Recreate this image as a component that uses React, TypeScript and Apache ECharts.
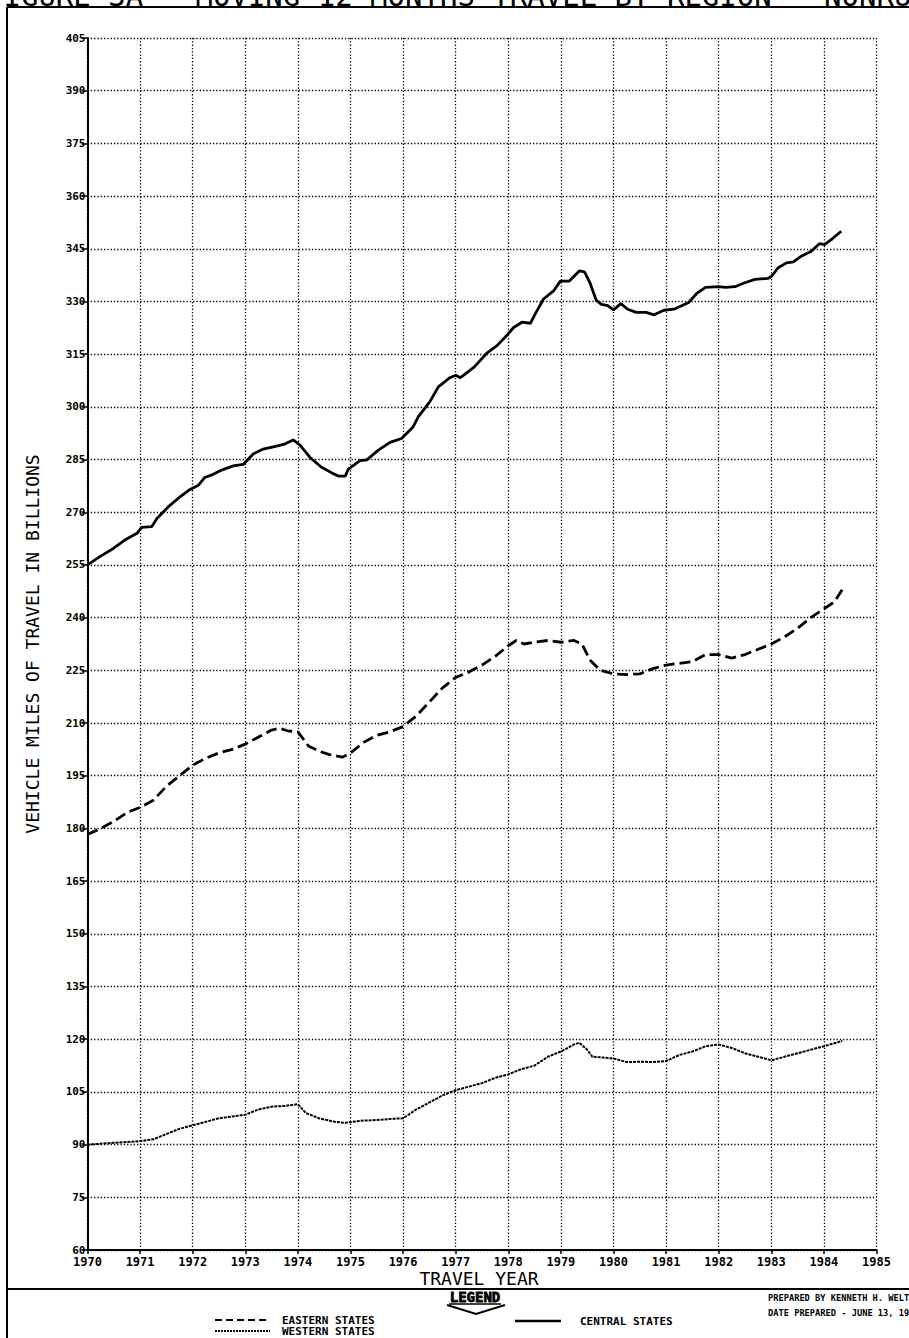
import React, { useEffect, useRef } from 'react';
import * as echarts from 'echarts';

// [travel year, vehicle miles in billions]
const centralStates: [number, number][] = [
  [1970.0, 255], [1970.25, 257.5], [1970.49, 259.7], [1970.71, 262.1], [1970.94, 264.0],
  [1971.03, 265.7], [1971.22, 265.9], [1971.32, 268.2], [1971.54, 271.6], [1971.76, 274.4],
  [1971.95, 276.5], [1972.11, 277.7], [1972.23, 279.9], [1972.39, 280.8], [1972.55, 282.0],
  [1972.77, 283.2], [1972.96, 283.6], [1973.15, 286.6], [1973.34, 288.0], [1973.53, 288.6],
  [1973.75, 289.4], [1973.91, 290.6], [1974.04, 289.1], [1974.23, 285.6], [1974.45, 282.8],
  [1974.67, 281.0], [1974.77, 280.3], [1974.9, 280.3], [1974.96, 282.3], [1975.18, 284.7],
  [1975.31, 284.9], [1975.53, 287.7], [1975.75, 289.9], [1975.97, 291.0], [1976.19, 294.3],
  [1976.29, 297.2], [1976.51, 301.5], [1976.67, 305.7], [1976.89, 308.3], [1977.0, 309.0],
  [1977.09, 308.3], [1977.35, 311.3], [1977.6, 315.4], [1977.79, 317.5], [1977.97, 320.3],
  [1978.1, 322.6], [1978.26, 324.1], [1978.42, 323.8], [1978.51, 326.4], [1978.67, 330.7],
  [1978.86, 333.0], [1978.99, 335.8], [1979.16, 335.8], [1979.35, 338.7], [1979.45, 338.4],
  [1979.55, 335.4], [1979.67, 330.4], [1979.77, 329.2], [1979.89, 328.8], [1980.0, 327.6],
  [1980.14, 329.4], [1980.27, 327.8], [1980.43, 326.9], [1980.62, 326.9], [1980.77, 326.2],
  [1980.96, 327.5], [1981.15, 327.8], [1981.43, 329.7], [1981.59, 332.4], [1981.75, 334.0],
  [1982.0, 334.2], [1982.13, 334.0], [1982.31, 334.2], [1982.47, 335.2], [1982.69, 336.3],
  [1982.94, 336.6], [1983.0, 337.1], [1983.13, 339.6], [1983.29, 341.0], [1983.42, 341.3],
  [1983.57, 342.9], [1983.76, 344.3], [1983.92, 346.5], [1984.01, 346.2], [1984.14, 347.6],
  [1984.33, 350.0],
];

const easternStates: [number, number][] = [
  [1970.0, 178.3], [1970.25, 180], [1970.5, 182], [1970.75, 184.5], [1971.0, 186],
  [1971.25, 188], [1971.5, 192], [1971.75, 195], [1972.0, 198], [1972.25, 200],
  [1972.5, 201.5], [1972.75, 202.5], [1973.0, 204], [1973.25, 206], [1973.5, 208],
  [1973.65, 208.5], [1973.8, 207.8], [1974.0, 207.5], [1974.2, 203.5], [1974.4, 202],
  [1974.6, 201], [1974.85, 200.3], [1975.0, 201.5], [1975.25, 204.5], [1975.5, 206.5],
  [1975.75, 207.5], [1976.0, 209], [1976.25, 212], [1976.5, 216], [1976.75, 220],
  [1977.0, 223], [1977.25, 224.5], [1977.5, 226.5], [1977.75, 229], [1978.0, 232],
  [1978.15, 233.5], [1978.3, 232.5], [1978.5, 233], [1978.75, 233.5], [1979.0, 233],
  [1979.25, 233.5], [1979.4, 232.5], [1979.55, 228], [1979.75, 225], [1980.0, 224],
  [1980.25, 223.8], [1980.5, 224], [1980.75, 225.5], [1981.0, 226.5], [1981.25, 227],
  [1981.5, 227.5], [1981.75, 229.5], [1982.0, 229.5], [1982.25, 228.5], [1982.5, 229.5],
  [1982.75, 231], [1983.0, 232.5], [1983.25, 234.5], [1983.5, 237], [1983.75, 240],
  [1984.0, 242.5], [1984.2, 244.5], [1984.35, 248],
];

const westernStates: [number, number][] = [
  [1970.0, 90], [1970.5, 90.5], [1971.0, 91], [1971.25, 91.5], [1971.5, 93],
  [1971.75, 94.5], [1972.0, 95.5], [1972.25, 96.5], [1972.5, 97.5], [1972.75, 98],
  [1973.0, 98.5], [1973.25, 100], [1973.5, 100.8], [1973.75, 101], [1974.0, 101.5],
  [1974.15, 99], [1974.4, 97.5], [1974.7, 96.5], [1974.9, 96.2], [1975.2, 96.8],
  [1975.5, 97], [1975.75, 97.3], [1976.0, 97.5], [1976.25, 100], [1976.5, 102],
  [1976.75, 104], [1977.0, 105.5], [1977.25, 106.5], [1977.5, 107.5], [1977.75, 109],
  [1978.0, 110], [1978.25, 111.5], [1978.5, 112.5], [1978.75, 115], [1979.0, 116.5],
  [1979.25, 118.5], [1979.35, 119], [1979.5, 117], [1979.6, 115], [1979.8, 114.8],
  [1980.0, 114.5], [1980.25, 113.5], [1980.5, 113.6], [1980.75, 113.5], [1981.0, 113.8],
  [1981.25, 115.5], [1981.5, 116.5], [1981.75, 118], [1982.0, 118.5], [1982.25, 117.5],
  [1982.5, 116], [1982.75, 115], [1983.0, 114], [1983.25, 115], [1983.5, 116],
  [1983.75, 117], [1984.0, 118], [1984.35, 119.5],
];

const yearMin = 1970;
const yearMax = 1985;
const milesMin = 60;
const milesMax = 405;
const milesStep = 15;

const MONO = '"DejaVu Sans Mono", monospace';

const gridDots = { color: '#000', width: 1.3, type: [1.3, 2] as number[] };

const App: React.FC = () => {
  const chartRef = useRef<HTMLDivElement>(null);

  useEffect(() => {
    const chart = echarts.init(chartRef.current!, null, { renderer: 'svg' });

    const txt = (x: number, y: number, text: string, font: string, extra: any = {}) => ({
      type: 'text',
      x,
      y,
      silent: true,
      style: { text, font, fill: '#000', align: 'left', verticalAlign: 'middle', ...extra },
    });
    const seg = (x1: number, y1: number, x2: number, y2: number, width = 2, dash?: number[]) => ({
      type: 'line',
      silent: true,
      shape: { x1, y1, x2, y2 },
      style: { stroke: '#000', lineWidth: width, lineDash: dash },
    });

    const option = {
      animation: false,
      backgroundColor: '#fff',
      grid: { left: 87.5, top: 38, width: 789, height: 1212, containLabel: false, outerBoundsMode: 'none' },
      xAxis: {
        type: 'value',
        min: yearMin,
        max: yearMax,
        interval: 1,
        axisLine: { show: true, onZero: false, lineStyle: { color: '#000', width: 2 } },
        axisTick: { show: true, length: 4, lineStyle: { color: '#000', width: 1.5 } },
        axisLabel: {
          color: '#000',
          fontFamily: MONO,
          fontWeight: 'bold',
          fontSize: 12,
          margin: 6,
          formatter: (v: number) => String(v),
        },
        splitLine: { show: true, lineStyle: gridDots },
      },
      yAxis: {
        type: 'value',
        min: milesMin,
        max: milesMax,
        interval: milesStep,
        axisLine: { show: true, onZero: false, lineStyle: { color: '#000', width: 2 } },
        axisTick: { show: true, length: 6, lineStyle: { color: '#000', width: 1.5 } },
        axisLabel: {
          color: '#000',
          fontFamily: MONO,
          fontWeight: 'bold',
          fontSize: 11,
          margin: 2,
          formatter: (v: number) => String(v),
        },
        splitLine: { show: true, lineStyle: gridDots },
      },
      series: [
        {
          name: 'CENTRAL STATES',
          type: 'line',
          symbol: 'none',
          data: centralStates,
          lineStyle: { color: '#000', width: 2.8 },
        },
        {
          name: 'EASTERN STATES',
          type: 'line',
          symbol: 'none',
          data: easternStates,
          lineStyle: { color: '#000', width: 2.8, type: [11, 5] },
        },
        {
          name: 'WESTERN STATES',
          type: 'line',
          symbol: 'none',
          data: westernStates,
          lineStyle: { color: '#000', width: 2, type: [3, 1] },
        },
      ],
      graphic: [
        // page frame and title cut at the top edge
        txt(-14, -4, 'FIGURE 3A - MOVING 12 MONTHS TRAVEL BY REGION - NONRURAL', `29px ${MONO}`),
        seg(7, 7, 909, 7),
        seg(7, 7, 7, 1338),
        seg(7, 1289, 909, 1289),
        // axis names
        {
          type: 'text',
          x: 32,
          y: 644,
          rotation: Math.PI / 2,
          silent: true,
          style: {
            text: 'VEHICLE MILES OF TRAVEL IN BILLIONS',
            font: `18px ${MONO}`,
            fill: '#000',
            align: 'center',
            verticalAlign: 'middle',
          },
        },
        txt(479, 1278, 'TRAVEL YEAR', `18px ${MONO}`, { align: 'center' }),
        // legend box
        txt(475, 1297, 'LEGEND', `bold 14px ${MONO}`, { align: 'center', stroke: '#000', lineWidth: 0.8 }),
        seg(449, 1304, 501, 1304, 1.5),
        {
          type: 'polyline',
          silent: true,
          shape: { points: [[447, 1305], [476, 1314], [505, 1305]] },
          style: { stroke: '#000', lineWidth: 2, fill: 'none' },
        },
        seg(215, 1320, 270, 1320, 2, [7, 4]),
        txt(282, 1320, 'EASTERN STATES', `bold 11px ${MONO}`),
        seg(215, 1331, 270, 1331, 2, [2, 1]),
        txt(282, 1331.5, 'WESTERN STATES', `bold 11px ${MONO}`),
        seg(515, 1321, 561, 1321, 2.5),
        txt(580, 1321, 'CENTRAL STATES', `bold 11px ${MONO}`),
        txt(768, 1298, 'PREPARED BY KENNETH H. WELTY', `bold 8.7px ${MONO}`),
        txt(768, 1313, 'DATE PREPARED - JUNE 13, 1984', `bold 8.7px ${MONO}`),
      ],
    };

    chart.setOption(option);

    return () => {
      chart.dispose();
    };
  }, []);

  return (
    <div
      ref={chartRef}
      style={{ position: 'absolute', left: 0, top: 0, width: 909, height: 1338, background: '#fff' }}
    />
  );
};

export default App;
